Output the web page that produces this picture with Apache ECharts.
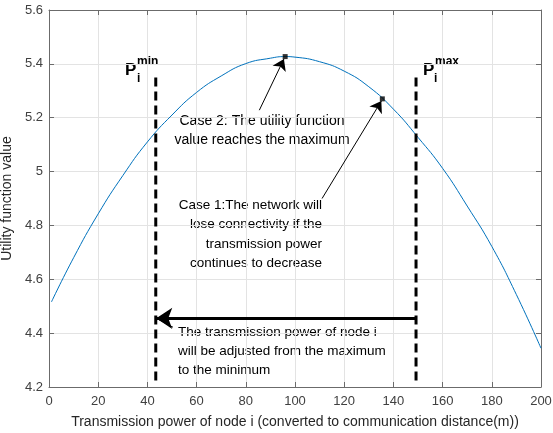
<!DOCTYPE html>
<html>
<head>
<meta charset="utf-8">
<title>Utility function vs transmission power</title>
<script src="https://cdn.jsdelivr.net/npm/echarts@6/dist/echarts.min.js"></script>
<style>
  html, body { margin: 0; padding: 0; background: #fff; }
  #chart { width: 553px; height: 433px; }
</style>
</head>
<body>
<div id="chart"></div>
<script>
// curve
const distance = [1, 10, 20, 30, 40, 50, 60, 70, 80, 90, 96, 100, 110, 120, 130, 140, 150, 160, 170, 180, 190, 200];
const utility = [4.516, 4.68, 4.843, 4.985, 5.11, 5.21, 5.294, 5.355, 5.401, 5.421, 5.427, 5.425, 5.408, 5.373, 5.315, 5.232, 5.127, 5.012, 4.872, 4.722, 4.543, 4.344];

const xRange = [0, 200, 20];
const yRange = [4.2, 5.6, 0.2];

// highlighted points on the curve
const markedPoints = [[96, 5.427], [135.5, 5.27]];

// P_min / P_max guides
const pMin = 43.4;
const pMax = 149.2;
const guideSpan = [4.224, 5.35];

// annotation arrows (data space)
const adjustArrow = [[149.2, 4.455], [43.6, 4.455]];
const adjustLeader = [[44.2, 4.452], [50.4, 4.422]];
const case2Arrow = [[85.5, 5.228], [95.5, 5.418]];
const case1Arrow = [[111, 4.9], [135.1, 5.262]];

const FONT = '"Liberation Sans", Arial, sans-serif';
const axisColor = '#6b6b6b';
const gridColor = '#e3e3e3';

function makeAxis(range, pos, main) {
    return {
        type: 'value',
        position: pos,
        min: range[0],
        max: range[1],
        interval: range[2],
        axisLine: { show: true, onZero: false, lineStyle: { color: axisColor, width: 1 } },
        axisTick: { show: true, inside: true, length: 5, lineStyle: { color: axisColor } },
        axisLabel: main
            ? { show: true, color: '#404040', fontSize: 13, fontFamily: FONT, margin: pos === 'bottom' ? 8 : 6 }
            : { show: false },
        splitLine: { show: main, lineStyle: { color: gridColor, width: 1 } }
    };
}

function text(x, y, str, opts) {
    return {
        type: 'text',
        x: x,
        y: y,
        silent: true,
        style: Object.assign({
            text: str,
            fill: '#000',
            fontSize: 13.5,
            fontFamily: FONT,
            lineHeight: 19.5,
            align: 'left',
            textAlign: 'left',
            verticalAlign: 'middle',
            textVerticalAlign: 'middle'
        }, opts || {})
    };
}

function arrowSeries(coords, width, headSize, head) {
    return {
        type: 'lines',
        coordinateSystem: 'cartesian2d',
        xAxisIndex: 0,
        yAxisIndex: 0,
        symbol: ['none', head ? 'arrow' : 'none'],
        symbolSize: headSize,
        lineStyle: { color: '#000', width: width, opacity: 1, curveness: 0 },
        data: [{ coords: coords }],
        z: 5
    };
}

function guideSeries(x) {
    return {
        type: 'line',
        xAxisIndex: 0,
        yAxisIndex: 0,
        data: [[x, guideSpan[0]], [x, guideSpan[1]]],
        symbol: 'none',
        lineStyle: { color: '#000', width: 3, type: [9, 5], cap: 'butt' },
        z: 4
    };
}

const xMain = makeAxis(xRange, 'bottom', true);
xMain.name = 'Transmission power of node i (converted to communication distance(m))';
xMain.nameLocation = 'middle';
xMain.nameGap = 28;
xMain.nameTextStyle = { color: '#262626', fontSize: 14, fontFamily: FONT };

const yMain = makeAxis(yRange, 'left', true);
yMain.name = 'Utility function value';
yMain.nameLocation = 'middle';
yMain.nameGap = 21;
yMain.nameTextStyle = { color: '#262626', fontSize: 14, fontFamily: FONT };

const option = {
    animation: false,
    backgroundColor: '#fff',
    grid: { left: 49, right: 12, top: 10, bottom: 46, containLabel: false, outerBoundsMode: 'none' },
    xAxis: [xMain, makeAxis(xRange, 'top', false)],
    yAxis: [yMain, makeAxis(yRange, 'right', false)],
    series: [
        {
            type: 'line',
            data: distance.map((d, i) => [d, utility[i]]),
            smooth: true,
            symbol: 'none',
            lineStyle: { color: '#0072BD', width: 1 },
            z: 3
        },
        guideSeries(pMin),
        guideSeries(pMax),
        arrowSeries(adjustArrow, 3, [0, 16], true),
        arrowSeries(adjustLeader, 1, 0, false),
        arrowSeries(case2Arrow, 1, [0, 11], true),
        arrowSeries(case1Arrow, 1, [0, 11], true),
        {
            type: 'scatter',
            data: markedPoints,
            symbol: 'rect',
            symbolSize: 5,
            itemStyle: { color: '#000' },
            z: 6
        }
    ],
    graphic: [
        text(262, 130.5, 'Case 2: The utility function\nvalue reaches the maximum', { align: 'center', textAlign: 'center', fontSize: 14 }),
        text(322, 234.5, 'Case 1:The network will\nlose connectivity if the\ntransmission power\ncontinues to decrease', { align: 'right', textAlign: 'right' }),
        text(178, 351, 'The transmission power of node i\nwill be adjusted from the maximum\nto the minimum', { lineHeight: 19 }),
        // P_i^min
        text(125, 70, 'P', { fontSize: 17, fontWeight: 'bold' }),
        text(137, 62, 'min', { fontSize: 12, fontWeight: 'bold' }),
        text(137, 79, 'i', { fontSize: 12, fontWeight: 'bold' }),
        // P_i^max
        text(423, 70, 'P', { fontSize: 17, fontWeight: 'bold' }),
        text(435, 62, 'max', { fontSize: 12, fontWeight: 'bold' }),
        text(434, 79, 'i', { fontSize: 12, fontWeight: 'bold' })
    ]
};

const chart = echarts.init(document.getElementById('chart'), null, { renderer: 'canvas' });
chart.setOption(option);
window.addEventListener('resize', () => chart.resize());
</script>
</body>
</html>
